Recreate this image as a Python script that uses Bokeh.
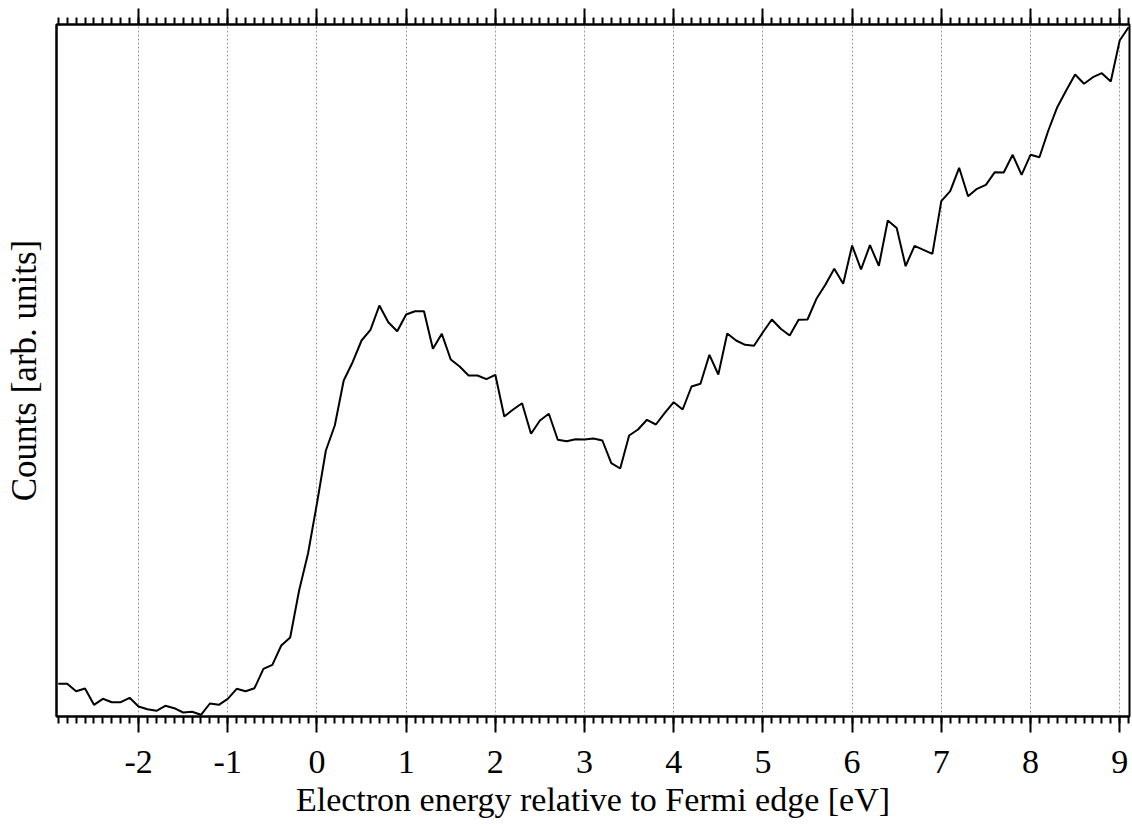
from bokeh.plotting import figure
from bokeh.models import LinearAxis, FixedTicker, Range1d
from bokeh.embed import file_html
from bokeh.resources import INLINE

# Energy grid (eV), 0.1 eV steps from -2.9 to 9.1
energy = [round(-2.9 + 0.1 * i, 1) for i in range(121)]

# Counts (arbitrary units)
counts = [
    32.7, 32.7, 25.3, 28.0, 11.7, 17.7, 14.3, 14.3, 18.7, 10.0,
    7.3, 5.7, 10.7, 8.3, 4.0, 4.7, 1.7, 13.0, 11.7, 17.7,
    27.7, 25.3, 28.3, 47.7, 51.7, 71.0, 79.0, 126.0, 163.0, 213.0,
    266.0, 291.0, 336.0, 354.3, 376.0, 386.7, 411.0, 394.3, 385.3, 402.0,
    405.3, 405.3, 367.7, 382.7, 357.0, 350.0, 341.0, 341.0, 337.3, 341.7,
    300.0, 307.0, 313.3, 282.7, 296.0, 302.7, 276.7, 275.3, 277.3, 277.0,
    278.0, 276.0, 253.3, 248.0, 281.0, 287.0, 296.7, 292.0, 303.7, 314.3,
    307.0, 330.0, 332.7, 361.7, 342.0, 383.0, 376.0, 371.7, 370.7, 384.3,
    397.0, 387.7, 381.0, 396.7, 397.0, 417.7, 431.7, 447.7, 432.7, 471.0,
    447.0, 471.3, 450.7, 496.0, 488.5, 450.3, 470.7, 466.7, 462.7, 515.3,
    525.3, 548.7, 520.3, 527.7, 531.7, 544.3, 544.0, 561.7, 541.7, 561.7,
    559.3, 586.0, 609.3, 626.0, 642.0, 632.7, 639.3, 643.3, 635.0, 676.0,
    689.3,
]

major_ticks = list(range(-2, 10))
tick_labels = ["-2", "-1", "0", "1", "2", "3", "4", "5", "6", "7", "8", "9"]
minor_ticks = [round(-2.9 + 0.1 * i, 1) for i in range(121)]

x_label = "Electron energy relative to Fermi edge [eV]"
y_label = "Counts [arb. units]"

FONT = "Liberation Serif"
FS = "34px"

p = figure(
    frame_width=1073, frame_height=692,
    x_range=Range1d(-2.92, 9.11), y_range=Range1d(0, 692),
    output_backend="svg", toolbar_location=None,
    min_border_left=56, min_border_top=24, min_border_right=3, min_border_bottom=0,
    background_fill_color="white", border_fill_color="white",
)
p.outline_line_color = "black"
p.outline_line_width = 2

# bottom axis
xa = p.xaxis[0]
xa.ticker = FixedTicker(ticks=major_ticks, minor_ticks=minor_ticks)
xa.major_label_overrides = dict(zip(major_ticks, tick_labels))
xa.major_tick_out = 16
xa.major_tick_in = 0
xa.minor_tick_out = 7
xa.minor_tick_in = 0
xa.major_tick_line_width = 2
xa.minor_tick_line_width = 2
xa.axis_line_width = 2
xa.major_label_text_font = FONT
xa.major_label_text_font_size = FS
xa.major_label_text_color = "black"
xa.major_label_standoff = 18
xa.axis_label = x_label
xa.axis_label_text_font = FONT
xa.axis_label_text_font_size = FS
xa.axis_label_text_font_style = "normal"
xa.axis_label_text_color = "black"
xa.axis_label_standoff = 5

# top axis: ticks only
xt = LinearAxis(ticker=FixedTicker(ticks=major_ticks, minor_ticks=minor_ticks),
                major_tick_out=16, major_tick_in=0, major_tick_line_width=2,
                minor_tick_out=7, minor_tick_in=0, minor_tick_line_width=2,
                axis_line_width=2, major_label_text_color=None,
                major_label_text_font_size="1px", major_label_standoff=0)
p.add_layout(xt, "above")

# left axis: label only
ya = p.yaxis[0]
ya.ticker = FixedTicker(ticks=[], minor_ticks=[])
ya.major_tick_line_color = None
ya.minor_tick_line_color = None
ya.major_label_text_color = None
ya.axis_line_width = 2
ya.axis_label = y_label
ya.axis_label_text_font = FONT
ya.axis_label_text_font_size = "35px"
ya.axis_label_text_font_style = "normal"
ya.axis_label_text_color = "black"
ya.axis_label_standoff = 13

p.xgrid.ticker = FixedTicker(ticks=major_ticks)
p.xgrid.grid_line_color = "#9a9a9a"
p.xgrid.grid_line_dash = "2 2"
p.xgrid.grid_line_width = 1
p.ygrid.grid_line_color = None

p.line(energy, counts, line_color="black", line_width=2)

open("out.html", "w").write(file_html(p, INLINE))
